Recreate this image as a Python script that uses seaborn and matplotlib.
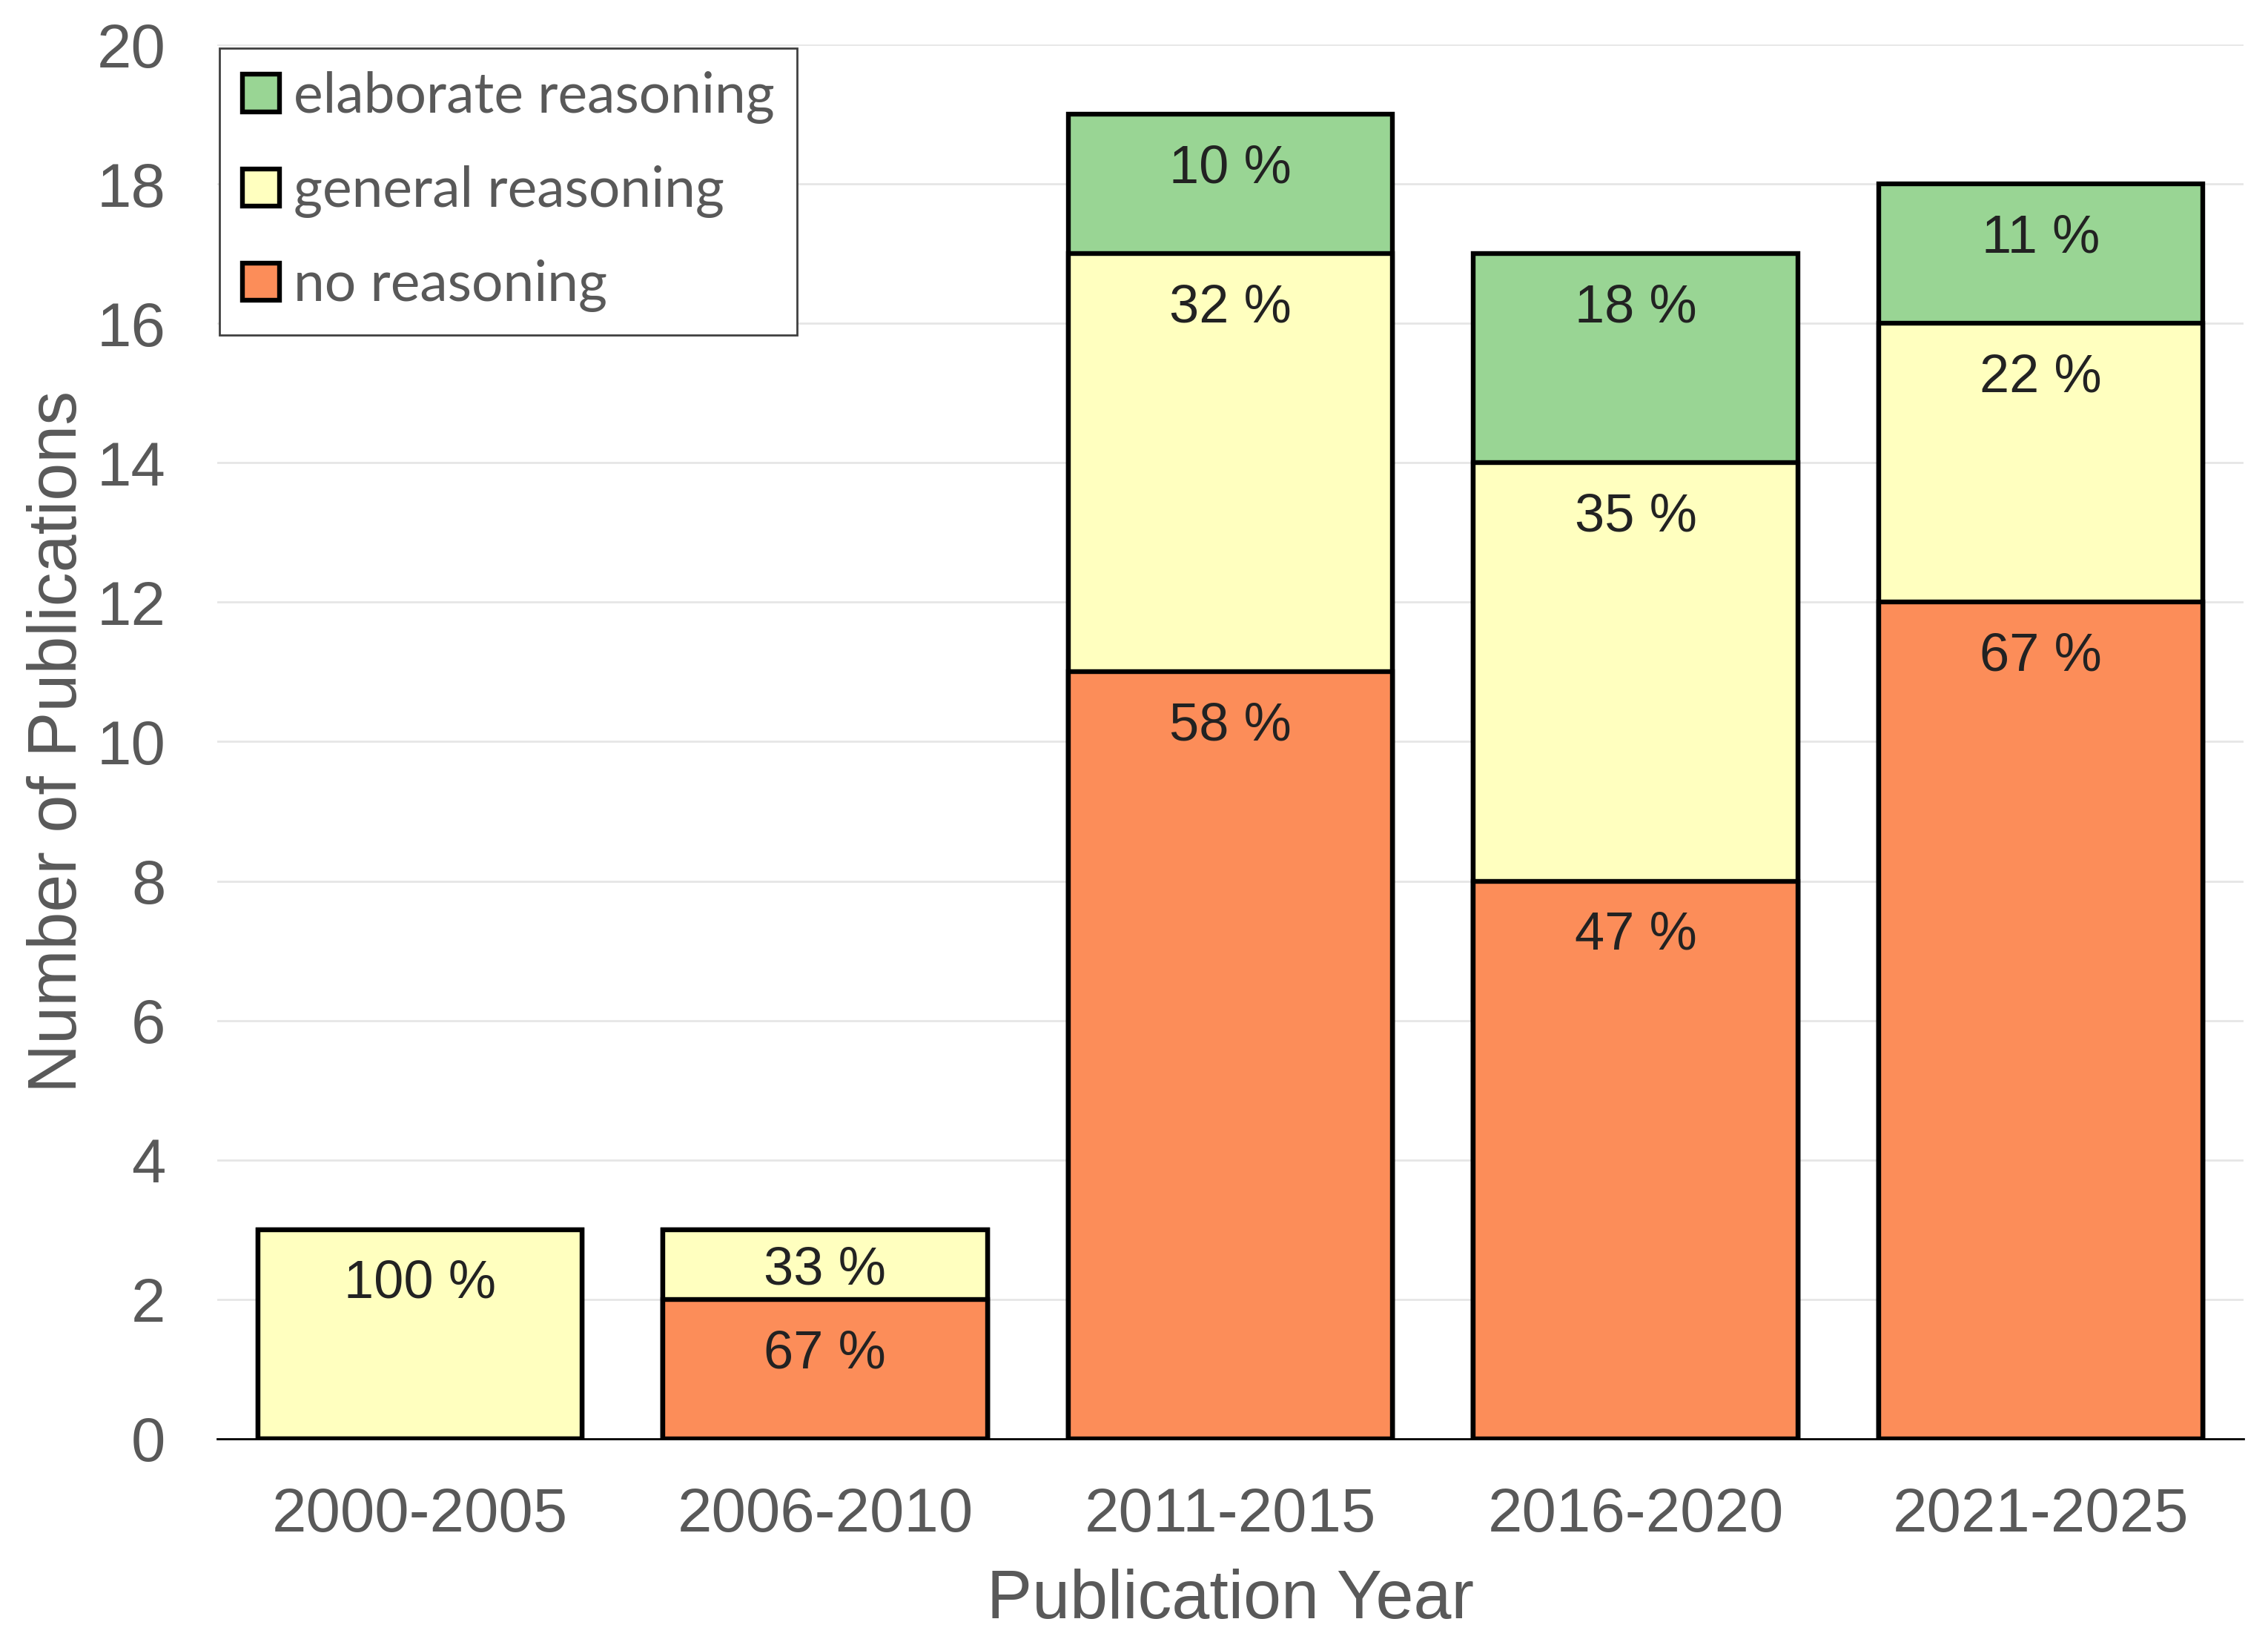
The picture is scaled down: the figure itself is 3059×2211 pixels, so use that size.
import numpy as np
import pandas as pd
import matplotlib
matplotlib.use("Agg")
import matplotlib.pyplot as plt
import seaborn as sns

# Daten
periods = ["2000-2005", "2006-2010", "2011-2015", "2016-2020", "2021-2025"]
no_reasoning = [0, 2, 11, 8, 12]
general_reasoning = [3, 1, 6, 6, 4]
elaborate_reasoning = [0, 0, 2, 3, 2]

no_labels = ["", "67 %", "58 %", "47 %", "67 %"]
general_labels = ["100 %", "33 %", "32 %", "35 %", "22 %"]
elaborate_labels = ["", "", "10 %", "18 %", "11 %"]

colors = {
    "elaborate reasoning": "#99d594",
    "general reasoning": "#ffffbf",
    "no reasoning": "#fc8d59",
}

df = pd.DataFrame({
    "period": periods,
    "no": no_reasoning,
    "general": general_reasoning,
    "elaborate": elaborate_reasoning,
})
df["no_top"] = df["no"]
df["general_top"] = df["no"] + df["general"]
df["elaborate_top"] = df["general_top"] + df["elaborate"]

sns.set_style("white")
plt.rcParams["font.family"] = ["Liberation Sans", "DejaVu Sans"]
legend_font = ["Lato", "Liberation Sans", "DejaVu Sans"]
grey = "#595959"

W, H = 3059, 2211
fig = plt.figure(figsize=(W / 200, H / 200), dpi=200)
ax = fig.add_axes([293 / W, 1 - 1941 / H, (3026 - 293) / W, (1941 - 60) / H])
ax.set_xlim(-0.5, 4.5)
ax.set_ylim(0, 20)

# Punkte pro Dateneinheit (für die Position der Prozentangaben)
pt_per_unit = (ax.transData.transform((0, 1))[1] - ax.transData.transform((0, 0))[1]) * 72 / fig.dpi

# gestapelte Balken: von hinten (Summe) nach vorne zeichnen
layers = [
    ("elaborate_top", "elaborate", "elaborate reasoning", elaborate_labels),
    ("general_top", "general", "general reasoning", general_labels),
    ("no_top", "no", "no reasoning", no_labels),
]
for col, seg, name, labels in layers:
    sns.barplot(data=df, x="period", y=col, color=colors[name], saturation=1,
                width=0.8, edgecolor="black", linewidth=2.3, errorbar=None,
                label=name, ax=ax, zorder=3)
    for i, (top, h, txt) in enumerate(zip(df[col], df[seg], labels)):
        if txt:
            off = min(26.5, h * pt_per_unit / 2 + 3)
            ax.annotate(txt, (i, top), xytext=(0, -off), textcoords="offset points",
                        ha="center", va="center", fontsize=26, color="#222222",
                        zorder=5)

ax.set_xlim(-0.5, 4.5)
ax.set_ylim(0, 20)
ax.set_yticks(range(0, 21, 2))
ax.set_axisbelow(True)
ax.yaxis.grid(True, color="#e6e6e6", linewidth=1.0)
ax.xaxis.grid(False)
for s in ["left", "right", "top"]:
    ax.spines[s].set_visible(False)
ax.spines["bottom"].set_color("black")
ax.spines["bottom"].set_linewidth(1.0)

ax.tick_params(axis="both", length=0, labelsize=30, colors=grey)
ax.tick_params(axis="y", pad=25)
ax.tick_params(axis="x", pad=23)

ax.set_xlabel("Publication Year", fontsize=33, color=grey, labelpad=12)
ax.set_ylabel("Number of Publications", fontsize=33, color=grey, labelpad=3)

leg = ax.legend(loc="upper left", bbox_to_anchor=(0.0011, 0.9973), borderaxespad=0,
                frameon=True, fancybox=False, framealpha=1, edgecolor="#404040",
                prop={"family": legend_font, "size": 27}, labelcolor=grey,
                handlelength=0.667, handleheight=0.65, handletextpad=0.25,
                borderpad=0.41, labelspacing=0.75)
leg.get_frame().set_linewidth(1.0)

fig.savefig("out.png", dpi=200)
